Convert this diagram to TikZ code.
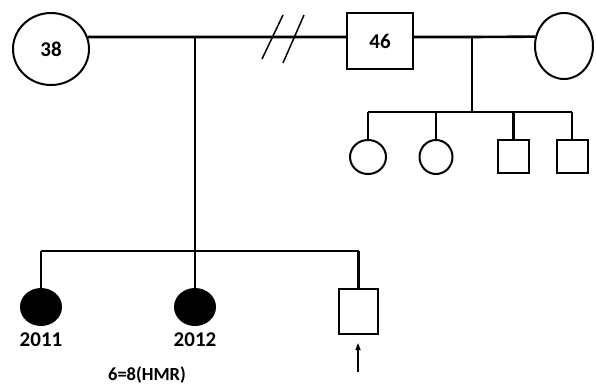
\documentclass[tikz,border=0pt]{standalone}
\usepackage{fontspec}
\setmainfont{Carlito}
\usetikzlibrary{shapes.geometric,arrows.meta}
\tikzset{
  ind/.style={draw, line width=2pt, inner sep=0pt, font=\fontsize{21}{21}\selectfont\bfseries},
  fem/.style={ind, ellipse},
  mal/.style={ind, rectangle},
  aff/.style={fem, fill=black},
  lbl/.style={inner sep=0pt, font=\fontsize{21}{21}\selectfont\bfseries},
  rel/.style={line width=2.6pt},
  sib/.style={line width=2.1pt},
}
\begin{document}
\begin{tikzpicture}[x=1pt,y=-1pt]
\useasboundingbox (0,0) rectangle (596,384);
% individuals
\node[fem, minimum width=76pt, minimum height=72pt] (p38) at (51,49) {38};
\node[mal, minimum width=66pt, minimum height=56pt] (m46) at (380,41) {46};
\node[fem, minimum width=58pt, minimum height=66pt] (f2) at (564,46) {};
\node[fem, minimum width=36pt, minimum height=34pt] (c1) at (368,157) {};
\node[fem, minimum width=33pt, minimum height=34pt] (c2) at (436,157) {};
\node[mal, minimum width=31pt, minimum height=33pt] (s1) at (513.5,156.5) {};
\node[mal, minimum width=31pt, minimum height=33pt] (s2) at (572,156.5) {};
\node[aff, minimum width=40pt, minimum height=36pt] (a1) at (41,307) {};
\node[aff, minimum width=40pt, minimum height=36pt] (a2) at (195,307) {};
\node[mal, minimum width=39pt, minimum height=45pt] (pb) at (358.5,311.5) {};
% labels
\node[lbl] (l1) at (41,340) {2011};
\node[lbl] (l2) at (195,340) {2012};
\node[lbl, font=\fontsize{18.5}{18.5}\selectfont\bfseries] (l3) at (147,375) {6=8(HMR)};
% junction coordinates
\coordinate (j1) at (195,37);
\coordinate (j1b) at (195,251);
\coordinate (j2) at (472,37);
\coordinate (j2b) at (472,112);
\coordinate (sl) at (41,251);
\coordinate (sr) at (358.5,251);
\coordinate (tl) at (368,112);
\coordinate (tr) at (572,112);
\coordinate (ar1) at (358,372);
\coordinate (ar2) at (358,343);
% marriage lines
\draw[rel] (p38.18) -- (j1) -- (m46.west |- j1);
\draw[rel] (m46.east |- j2) -- (j2) -- (f2.162);
% divorce slashes
\coordinate (d1a) at (262,59);
\coordinate (d1b) at (283,15);
\coordinate (d2a) at (283,63);
\coordinate (d2b) at (304,15);
\draw[line width=1.5pt] (d1a) -- (d1b);
\draw[line width=1.5pt] (d2a) -- (d2b);
% descent lines
\draw[rel] (j1) -- (j1b);
\draw[rel] (j2) -- (j2b);
% sibships
\draw[sib] (sl) -- (sr);
\draw[sib] (sl) -- (a1.north);
\draw[sib] (j1b) -- (a2.north);
\draw[sib] (sr) -- (pb.north);
\draw[sib] (tl) -- (tr);
\draw[sib] (tl) -- (c1.north);
\draw[sib] (c2.north |- tl) -- (c2.north);
\draw[sib] (s1.north |- tl) -- (s1.north);
\draw[sib] (tr) -- (s2.north);
% proband arrow
\draw[line width=1.5pt, -{Triangle[length=7pt,width=5pt]}] (ar1) -- (ar2);
\end{tikzpicture}
\end{document}
